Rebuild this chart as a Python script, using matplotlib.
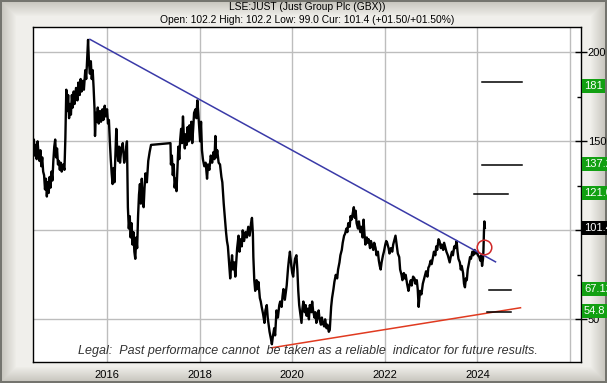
import numpy as np
import matplotlib
matplotlib.use("Agg")
import matplotlib.pyplot as plt
from matplotlib.colors import to_rgb
import matplotlib.transforms as mtransforms

plt.rcParams['font.family'] = ['Liberation Sans', 'DejaVu Sans']

# ---------------- data ----------------
yrs = [2014.40, 2014.42, 2014.44, 2014.46, 2014.48, 2014.50, 2014.52, 2014.54, 2014.56, 2014.58,
       2014.60, 2014.62, 2014.64, 2014.66, 2014.68, 2014.70, 2014.72, 2014.74, 2014.76, 2014.78,
       2014.80, 2014.82, 2014.84, 2014.86, 2014.88, 2014.90, 2014.92, 2014.94, 2014.96, 2014.98,
       2015.00, 2015.02, 2015.05, 2015.08, 2015.10, 2015.12, 2015.14, 2015.16, 2015.18, 2015.20,
       2015.22, 2015.24, 2015.26, 2015.28, 2015.30, 2015.33, 2015.36, 2015.38, 2015.41, 2015.43,
       2015.45, 2015.48, 2015.50, 2015.53, 2015.55, 2015.57, 2015.59, 2015.61, 2015.63, 2015.65,
       2015.67, 2015.69, 2015.71, 2015.73, 2015.74, 2015.76, 2015.78, 2015.80, 2015.82, 2015.85,
       2015.87, 2015.90, 2015.92, 2015.95, 2015.97, 2016.00, 2016.02, 2016.04, 2016.06, 2016.08,
       2016.10, 2016.12, 2016.14, 2016.16, 2016.18, 2016.20, 2016.22, 2016.24, 2016.26, 2016.28,
       2016.31, 2016.34, 2016.37, 2016.40, 2016.43, 2016.45, 2016.47, 2016.49, 2016.51, 2016.53,
       2016.55, 2016.57, 2016.59, 2016.61, 2016.63, 2016.65, 2016.67, 2016.69, 2016.71, 2016.73,
       2016.75, 2016.77, 2016.79, 2016.81, 2016.83, 2016.86, 2016.89, 2016.92, 2016.95, 2017.37,
       2017.38, 2017.40, 2017.42, 2017.44, 2017.46, 2017.48, 2017.50, 2017.52, 2017.54, 2017.56,
       2017.58, 2017.60, 2017.62, 2017.64, 2017.66, 2017.68, 2017.70, 2017.72, 2017.74, 2017.76,
       2017.78, 2017.80, 2017.82, 2017.84, 2017.86, 2017.88, 2017.91, 2017.93, 2017.95, 2017.97,
       2017.99, 2018.01, 2018.03, 2018.05, 2018.07, 2018.10, 2018.13, 2018.16, 2018.18, 2018.21,
       2018.24, 2018.27, 2018.30, 2018.32, 2018.34, 2018.36, 2018.38, 2018.41, 2018.44, 2018.47,
       2018.49, 2018.52, 2018.55, 2018.57, 2018.59, 2018.61, 2018.63, 2018.66, 2018.68, 2018.70,
       2018.72, 2018.75, 2018.77, 2018.79, 2018.81, 2018.84, 2018.86, 2018.88, 2018.91, 2018.93,
       2018.96, 2018.99, 2019.02, 2019.05, 2019.08, 2019.11, 2019.13, 2019.15, 2019.16, 2019.18,
       2019.20, 2019.23, 2019.25, 2019.27, 2019.30, 2019.32, 2019.34, 2019.37, 2019.40, 2019.42,
       2019.45, 2019.47, 2019.49, 2019.51, 2019.54, 2019.56, 2019.58, 2019.61, 2019.63, 2019.66,
       2019.69, 2019.72, 2019.74, 2019.77, 2019.79, 2019.81, 2019.84, 2019.86, 2019.88, 2019.91,
       2019.93, 2019.95, 2019.98, 2020.00, 2020.02, 2020.04, 2020.06, 2020.09, 2020.11, 2020.13,
       2020.15, 2020.18, 2020.20, 2020.22, 2020.24, 2020.27, 2020.29, 2020.31, 2020.34, 2020.36,
       2020.38, 2020.41, 2020.43, 2020.45, 2020.48, 2020.50, 2020.52, 2020.55, 2020.57, 2020.59,
       2020.62, 2020.64, 2020.66, 2020.69, 2020.71, 2020.74, 2020.76, 2020.79, 2020.81, 2020.84,
       2020.86, 2020.89, 2020.91, 2020.94, 2020.97, 2020.99, 2021.02, 2021.04, 2021.07, 2021.09,
       2021.12, 2021.14, 2021.17, 2021.19, 2021.21, 2021.24, 2021.26, 2021.28, 2021.31, 2021.33,
       2021.35, 2021.37, 2021.39, 2021.42, 2021.44, 2021.47, 2021.49, 2021.52, 2021.54, 2021.56,
       2021.58, 2021.61, 2021.63, 2021.65, 2021.68, 2021.70, 2021.72, 2021.75, 2021.77, 2021.80,
       2021.82, 2021.85, 2021.87, 2021.89, 2021.91, 2021.93, 2021.96, 2021.98, 2022.01, 2022.03,
       2022.05, 2022.08, 2022.10, 2022.13, 2022.16, 2022.18, 2022.21, 2022.23, 2022.26, 2022.28,
       2022.31, 2022.33, 2022.36, 2022.38, 2022.41, 2022.43, 2022.45, 2022.48, 2022.51, 2022.53,
       2022.56, 2022.58, 2022.61, 2022.64, 2022.66, 2022.69, 2022.71, 2022.73, 2022.75, 2022.76,
       2022.79, 2022.82, 2022.84, 2022.87, 2022.89, 2022.92, 2022.94, 2022.96, 2022.99, 2023.01,
       2023.04, 2023.06, 2023.09, 2023.11, 2023.13, 2023.16, 2023.18, 2023.21, 2023.23, 2023.26,
       2023.28, 2023.31, 2023.33, 2023.36, 2023.38, 2023.40, 2023.43, 2023.45, 2023.47, 2023.50,
       2023.52, 2023.55, 2023.57, 2023.59, 2023.62, 2023.64, 2023.66, 2023.69, 2023.71, 2023.73,
       2023.75, 2023.77, 2023.79, 2023.82, 2023.84, 2023.86, 2023.89, 2023.91, 2023.94, 2023.96,
       2023.99, 2024.01, 2024.04, 2024.06, 2024.08, 2024.10, 2024.12, 2024.13, 2024.14, 2024.15,
       2024.16]

closes = [146, 151, 142, 148, 140, 150, 143, 139, 145, 136,
          141, 133, 131, 123, 129, 119, 127, 121, 130, 124,
          133, 128, 139, 147, 151, 141, 146, 137, 139, 134,
          138, 133, 137, 134, 152, 179, 167, 176, 163, 171,
          165, 176, 169, 178, 171, 180, 173, 183, 176, 185,
          178, 184, 179, 190, 185, 196, 207, 194, 188, 195,
          185, 190, 180, 168, 153, 166, 161, 169, 160, 167,
          161, 168, 162, 170, 164, 168, 160, 162, 150, 140,
          132, 126, 135, 127, 142, 157, 145, 139, 147, 138,
          146, 149, 138, 143, 150, 113, 101, 108, 96, 104,
          92, 99, 88, 84, 96, 90, 108, 120, 126, 115,
          129, 117, 113, 124, 132, 127, 139, 144, 148, 149,
          137, 142, 131, 137, 124, 129, 122, 134, 147, 140,
          151, 157, 149, 164, 152, 146, 154, 148, 158, 150,
          159, 151, 161, 149, 157, 166, 168, 163, 173, 166,
          158, 150, 161, 145, 140, 136, 138, 129, 137, 134,
          142, 138, 144, 140, 153, 141, 145, 138, 137, 130,
          127, 115, 105, 99, 94, 91, 84, 73, 80, 86,
          78, 82, 74, 82, 90, 97, 88, 95, 91, 100,
          94, 99, 96, 102, 97, 104, 107, 98, 85, 72,
          66, 72, 67, 71, 62, 60, 57, 53, 48, 55,
          58, 51, 47, 43, 39, 36, 40, 45, 41, 55,
          51, 58, 60, 57, 63, 67, 61, 65, 69, 79,
          84, 88, 80, 76, 74, 80, 84, 86, 78, 66,
          58, 52, 48, 56, 60, 54, 58, 52, 56, 50,
          58, 54, 60, 55, 51, 54, 48, 52, 55, 50,
          47, 51, 48, 46, 50, 45, 47, 43, 44, 57,
          62, 67, 71, 75, 73, 78, 82, 86, 89, 93,
          97, 98, 101, 99, 104, 102, 108, 106, 110, 113,
          107, 111, 104, 101, 105, 99, 102, 96, 106, 98,
          92, 96, 93, 95, 90, 94, 92, 89, 93, 90,
          86, 88, 83, 80, 78, 82, 86, 88, 92, 94,
          93, 90, 87, 90, 88, 92, 95, 97, 91, 87,
          85, 78, 75, 72, 76, 73, 75, 70, 66, 69,
          72, 69, 74, 73, 70, 72, 67, 57, 63, 66,
          64, 70, 72, 75, 77, 74, 79, 80, 83, 81,
          85, 88, 86, 91, 89, 95, 94, 90, 92, 89,
          93, 90, 88, 86, 84, 82, 86, 88, 86, 91,
          90, 94, 88, 84, 82, 78, 80, 76, 70, 68,
          73, 72, 78, 82, 85, 84, 88, 86, 89, 87,
          88, 86, 85, 83, 86, 80, 84, 89, 99, 105,
          101.4]

# trend lines
down_x = [2015.63, 2024.39]
down_y = [207.3, 82.3]
up_x = [2019.55, 2024.93]
up_y = [34.0, 56.5]

# target levels (short horizontal lines)
tgt_vals = [183.5, 136.8, 120.5, 66.5, 54.1]
tgt_x0 = [2024.10, 2024.10, 2023.92, 2024.24, 2024.21]
tgt_x1 = [2024.97, 2024.97, 2024.65, 2024.73, 2024.73]

# right-hand value tags
tag_vals = [181, 137.2, 121.0, 101.4, 67.12, 54.8]
tag_text = ["181", "137.2", "121.0", "101.4", "67.12", "54.8"]
tag_cols = ["#12a012", "#12a012", "#12a012", "#000000", "#12a012", "#12a012"]

circle_x, circle_y = 2024.14, 90.7

year_ticks = [2016, 2018, 2020, 2022, 2024, 2026]
year_labels = ["2016", "2018", "2020", "2022", "2024", ""]
price_ticks = [50, 100, 150, 200]
price_labels = ["50", "", "150", "200"]

# ---------------- figure ----------------
W, H = 607, 383
fig = plt.figure(figsize=(W / 100, H / 100), dpi=100)

# bevelled grey frame background
bg = fig.add_axes([0, 0, 1, 1], zorder=-10)
ii, jj = np.mgrid[0:H, 0:W]
d = np.minimum(np.minimum(ii, H - 1 - ii), np.minimum(jj, W - 1 - jj)).astype(float)
t = np.clip(d / 16.0, 0, 1)[..., None]
edge = np.array(to_rgb("#c4c2ba"))
inner = np.array(to_rgb("#f0efeb"))
img = edge * (1 - t) + inner * t
img[d < 1.5] = to_rgb("#74746e")
bg.imshow(img, extent=[0, 1, 0, 1], aspect='auto', origin='upper')
bg.axis('off')

ax = fig.add_axes([32.5 / W, 1 - 361.7 / H, (580.7 - 32.5) / W, (361.7 - 26.7) / H])
ax.set_facecolor('white')
ax.set_xlim(2014.39, 2026.23)
ax.set_ylim(26.2, 214.4)

ax.set_xticks(year_ticks)
ax.set_xticklabels(year_labels)
ax.set_yticks(price_ticks)
ax.set_yticklabels(price_labels)
ax.set_yticks([75, 125, 175], minor=True)
ax.yaxis.tick_right()
ax.tick_params(axis='x', length=0, labelsize=8, pad=6)
ax.tick_params(axis='y', which='major', direction='inout', length=8, width=1, labelsize=8, pad=1)
ax.tick_params(axis='y', which='minor', direction='in', length=3, width=1)
ax.grid(True, which='major', color='#bdbdbd', lw=1)
ax.set_axisbelow(True)
for s in ax.spines.values():
    s.set_color('black')
    s.set_linewidth(1)

ax.plot(yrs, closes, color='black', lw=1.7, zorder=3)
ax.plot(down_x, down_y, color='#3a3aa8', lw=1.1, zorder=4)
ax.plot(up_x, up_y, color='#e03a20', lw=1.1, zorder=4)
for v, a, b in zip(tgt_vals, tgt_x0, tgt_x1):
    ax.plot([a, b], [v, v], color='black', lw=1.1, zorder=4)
ax.plot([circle_x], [circle_y], marker='o', ms=10.5, mfc='none', mec='#d02828', mew=1.1, zorder=5)

trans = mtransforms.blended_transform_factory(ax.transAxes, ax.transData)
for v, s, c in zip(tag_vals, tag_text, tag_cols):
    ax.text(1.006, v, s, transform=trans, ha='left', va='center', fontsize=8, color='white',
            clip_on=False, zorder=6,
            bbox=dict(boxstyle='square,pad=0.18', fc=c, ec='none'))

ax.text(0.502, 0.032, "Legal:  Past performance cannot  be taken as a reliable  indicator for future results.",
        transform=ax.transAxes, ha='center', va='center', fontsize=9, style='italic', color='#333333',
        zorder=6)

fig.text(0.506, 0.9825, "LSE:JUST (Just Group Plc (GBX))", ha='center', va='center', fontsize=7.4)
fig.text(0.506, 0.948, "Open: 102.2 High: 102.2 Low: 99.0 Cur: 101.4 (+01.50/+01.50%)",
         ha='center', va='center', fontsize=7.4)

fig.savefig("out.png", dpi=100)
